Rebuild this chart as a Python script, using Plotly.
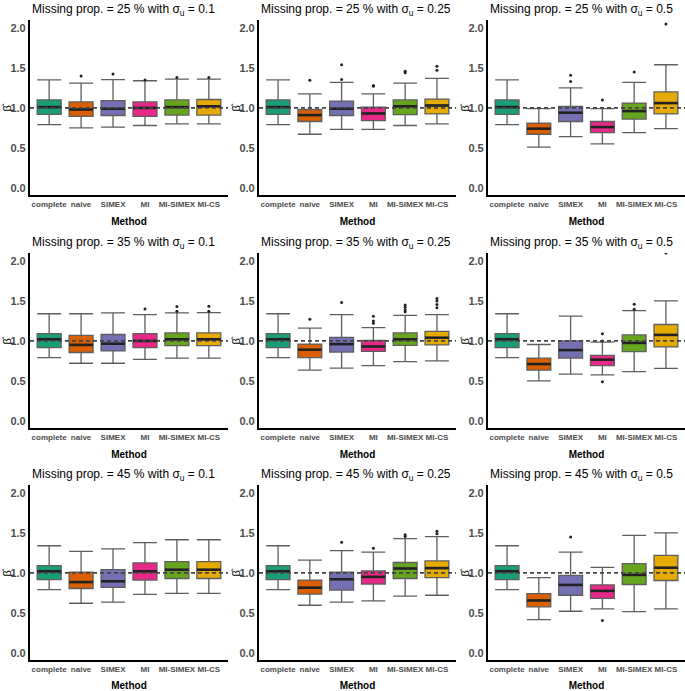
import plotly.graph_objects as go

METHODS = ["complete", "naive", "SIMEX", "MI", "MI-SIMEX", "MI-CS"]
COLORS = ["#1B9E77", "#D95F02", "#7570B3", "#E7298A", "#66A61E", "#E6AB02"]
MISSING_PROPS = ["25", "35", "45"]
SIGMAS = ["0.1", "0.25", "0.5"]

# panels ordered row-wise: (25,0.1),(25,0.25),(25,0.5),(35,0.1),...
LOWER = [
    [0.79, 0.75, 0.76, 0.78, 0.80, 0.80],
    [0.79, 0.67, 0.73, 0.73, 0.78, 0.80],
    [0.79, 0.51, 0.64, 0.55, 0.69, 0.74],
    [0.79, 0.72, 0.72, 0.77, 0.785, 0.785],
    [0.79, 0.635, 0.66, 0.69, 0.74, 0.75],
    [0.79, 0.50, 0.585, 0.575, 0.615, 0.655],
    [0.79, 0.62, 0.635, 0.73, 0.745, 0.745],
    [0.79, 0.595, 0.635, 0.65, 0.71, 0.72],
    [0.79, 0.415, 0.52, 0.55, 0.515, 0.55],
]
Q1 = [
    [0.92, 0.895, 0.905, 0.895, 0.91, 0.91],
    [0.92, 0.83, 0.905, 0.84, 0.915, 0.925],
    [0.92, 0.67, 0.83, 0.69, 0.86, 0.925],
    [0.915, 0.855, 0.875, 0.915, 0.94, 0.94],
    [0.915, 0.79, 0.86, 0.87, 0.945, 0.95],
    [0.915, 0.635, 0.785, 0.69, 0.865, 0.925],
    [0.915, 0.805, 0.82, 0.91, 0.93, 0.93],
    [0.915, 0.735, 0.785, 0.86, 0.93, 0.94],
    [0.915, 0.575, 0.72, 0.68, 0.855, 0.905],
]
MEDIAN = [
    [1.01, 0.98, 0.99, 1.00, 1.01, 1.02],
    [1.01, 0.91, 0.99, 0.93, 1.02, 1.03],
    [1.01, 0.74, 0.94, 0.76, 0.96, 1.06],
    [1.02, 0.95, 0.965, 1.00, 1.02, 1.02],
    [1.02, 0.89, 0.96, 0.93, 1.02, 1.04],
    [1.02, 0.71, 0.885, 0.765, 0.975, 1.075],
    [1.02, 0.885, 0.895, 1.02, 1.04, 1.04],
    [1.02, 0.815, 0.92, 0.95, 1.055, 1.06],
    [1.02, 0.655, 0.85, 0.775, 0.975, 1.065],
]
Q3 = [
    [1.10, 1.075, 1.09, 1.075, 1.10, 1.105],
    [1.10, 0.98, 1.085, 1.01, 1.10, 1.11],
    [1.10, 0.81, 1.02, 0.83, 1.06, 1.20],
    [1.09, 1.07, 1.08, 1.09, 1.10, 1.10],
    [1.09, 0.96, 1.045, 1.005, 1.10, 1.12],
    [1.09, 0.785, 1.00, 0.82, 1.075, 1.205],
    [1.09, 1.01, 1.04, 1.125, 1.14, 1.14],
    [1.09, 0.91, 1.01, 1.025, 1.13, 1.15],
    [1.09, 0.74, 0.97, 0.85, 1.115, 1.22],
]
UPPER = [
    [1.35, 1.31, 1.355, 1.34, 1.36, 1.36],
    [1.35, 1.175, 1.32, 1.175, 1.31, 1.37],
    [1.35, 0.99, 1.25, 0.99, 1.32, 1.54],
    [1.34, 1.34, 1.35, 1.33, 1.35, 1.355],
    [1.34, 1.16, 1.33, 1.165, 1.32, 1.33],
    [1.34, 0.955, 1.31, 0.985, 1.38, 1.50],
    [1.34, 1.27, 1.30, 1.38, 1.415, 1.415],
    [1.34, 1.16, 1.28, 1.26, 1.43, 1.455],
    [1.34, 0.94, 1.26, 1.07, 1.47, 1.50],
]
OUT_METHOD = [
    [1, 2, 3, 4, 5],
    [1, 2, 2, 3, 3, 4, 4, 5, 5],
    [2, 2, 3, 4, 5],
    [3, 4, 4, 5, 5],
    [1, 2, 3, 3, 3, 4, 4, 4, 4, 5, 5, 5, 5],
    [3, 3, 3, 4, 4, 5],
    [],
    [2, 3, 4, 4, 5, 5],
    [2, 3],
]
OUT_VALUE = [
    [1.40, 1.425, 1.35, 1.38, 1.38],
    [1.345, 1.54, 1.355, 1.28, 1.27, 1.46, 1.44, 1.52, 1.47],
    [1.41, 1.33, 1.10, 1.45, 2.05],
    [1.40, 1.43, 1.37, 1.435, 1.37],
    [1.27, 1.48, 1.31, 1.25, 1.22, 1.45, 1.42, 1.39, 1.365, 1.53, 1.50, 1.455, 1.415],
    [1.09, 1.00, 0.49, 1.46, 1.395, 2.10],
    [],
    [1.385, 1.31, 1.477, 1.456, 1.52, 1.49],
    [1.45, 0.405],
]
TRUE_BETA = 1.0

W, H = 685, 691
FONT = "Liberation Sans, Arial, sans-serif"
col_px = [(30, 228), (259, 456), (488, 685)]
row_px = [(20, 195), (253, 428), (485, 660)]
BOX_W = 0.75

fig = go.Figure()
layout = dict(
    width=W, height=H, margin=dict(l=0, r=0, t=0, b=0),
    paper_bgcolor="white", plot_bgcolor="white", showlegend=False,
    font=dict(family=FONT, color="#4D4D4D"),
)
annotations = []
shapes = []

for r in range(3):
    for c in range(3):
        p = r * 3 + c
        n = p + 1
        xa = "x" if n == 1 else f"x{n}"
        ya = "y" if n == 1 else f"y{n}"
        xkey = "xaxis" if n == 1 else f"xaxis{n}"
        ykey = "yaxis" if n == 1 else f"yaxis{n}"
        x0, x1 = col_px[c]
        yt, yb = row_px[r]
        layout[xkey] = dict(
            domain=[x0 / W, x1 / W], anchor=ya, range=[-0.6, 5.6],
            tickvals=list(range(6)), ticktext=METHODS, showgrid=False, zeroline=False,
            showline=True, linecolor="black", linewidth=2.2, ticks="", tickangle=0,
            tickfont=dict(family=FONT, size=8, color="#4D4D4D", weight="bold"),
            title=dict(text="<b>Method</b>", font=dict(family=FONT, size=10, color="black"), standoff=10),
        )
        layout[ykey] = dict(
            domain=[1 - yb / H, 1 - yt / H], anchor=xa, range=[-0.09, 2.1],
            tickvals=[0, 0.5, 1, 1.5, 2], ticktext=["0.0", "0.5", "1.0", "1.5", "2.0"],
            showgrid=False, zeroline=False, showline=True, linecolor="black", linewidth=2.2,
            ticks="", tickfont=dict(family=FONT, size=11, color="#4D4D4D", weight="bold"),
        )
        for i, m in enumerate(METHODS):
            fig.add_trace(go.Box(
                x=[i], q1=[Q1[p][i]], median=[MEDIAN[p][i]], q3=[Q3[p][i]],
                lowerfence=[LOWER[p][i]], upperfence=[UPPER[p][i]],
                width=BOX_W, whiskerwidth=1, fillcolor=COLORS[i],
                line=dict(color="#5E5E5E", width=1.3), boxpoints=False,
                xaxis=xa, yaxis=ya, hoverinfo="skip",
            ))
        mx, my = [], []
        for i in range(6):
            mx += [i - BOX_W / 2, i + BOX_W / 2, None]
            my += [MEDIAN[p][i], MEDIAN[p][i], None]
        fig.add_trace(go.Scatter(x=mx, y=my, mode="lines", line=dict(color="#222", width=2.6),
                                 xaxis=xa, yaxis=ya, hoverinfo="skip"))
        if OUT_METHOD[p]:
            fig.add_trace(go.Scatter(x=OUT_METHOD[p], y=OUT_VALUE[p], mode="markers",
                                     marker=dict(color="#222", size=3), xaxis=xa, yaxis=ya,
                                     hoverinfo="skip"))
        shapes.append(dict(type="line", xref=f"{xa} domain", yref=ya, x0=0, x1=1,
                           y0=TRUE_BETA, y1=TRUE_BETA, layer="above",
                           line=dict(color="#444", width=1.6, dash="4px,3px")))
        annotations.append(dict(
            text=f"Missing prop. = {MISSING_PROPS[r]} % with σ<sub>u</sub> = {SIGMAS[c]}",
            xref="paper", yref="paper", x=x0 / W, y=1 - (yt - 10) / H,
            xanchor="left", yanchor="middle", showarrow=False,
            font=dict(family=FONT, size=12, color="black"),
        ))
        annotations.append(dict(
            text="β̂", xref="paper", yref="paper", x=(x0 - 24) / W, y=1 - ((yt + yb) / 2) / H,
            xanchor="center", yanchor="middle", showarrow=False, textangle=-90,
            font=dict(family=FONT, size=11, color="black"),
        ))

layout["annotations"] = annotations
layout["shapes"] = shapes
fig.update_layout(**layout)
fig.write_html("out.html", config={"displayModeBar": False},
               post_script="document.body.style.margin='0';")
